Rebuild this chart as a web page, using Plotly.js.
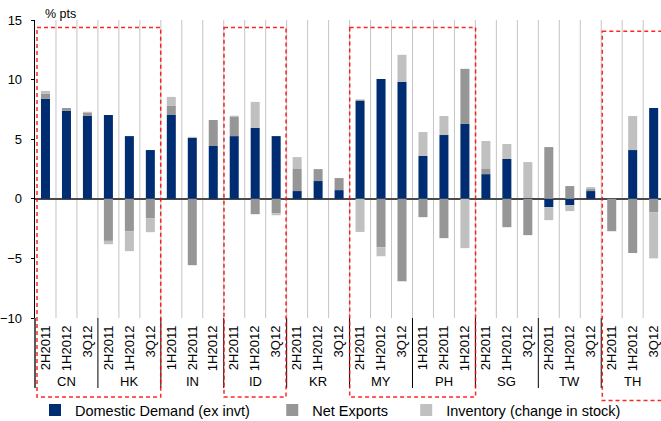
<!DOCTYPE html>
<html>
<head>
<meta charset="utf-8">
<script src="https://cdn.plot.ly/plotly-3.0.1.min.js"></script>
<style>
  html, body { margin: 0; padding: 0; background: #fff; }
  #chart { width: 661px; height: 421px; }
</style>
</head>
<body>
<div id="chart"></div>
<script>
// Contributions to growth by economy, % pts
const countries = ['CN', 'HK', 'IN', 'ID', 'KR', 'MY', 'PH', 'SG', 'TW', 'TH'];
const periods = [
  '2H2011', '1H2012', '3Q12',   // CN
  '2H2011', '1H2012', '3Q12',   // HK
  '1H2011', '2H2011', '1H2012', // IN
  '2H2011', '1H2012', '3Q12',   // ID
  '2H2011', '1H2012', '3Q12',   // KR
  '2H2011', '1H2012', '3Q12',   // MY
  '1H2011', '2H2011', '1H2012', // PH
  '2H2011', '1H2012', '3Q12',   // SG
  '2H2011', '1H2012', '3Q12',   // TW
  '2H2011', '1H2012', '3Q12'    // TH
];
const domesticDemand = [
  8.38, 7.37, 6.95,
  7.03, 5.26, 4.09,
  7.03, 5.10, 4.43,
  5.26, 5.94, 5.26,
  0.65, 1.49, 0.73,
  8.21, 10.06, 9.81,
  3.59, 5.35, 6.28,
  2.07, 3.34, 0.06,
  -0.70, -0.53, 0.65,
  0.00, 4.09, 7.62
];
const netExports = [
  0.42, 0.25, 0.25,
  -3.53, -2.71, -1.62,
  0.76, -5.57, 2.18,
  1.60, -1.29, -1.21,
  1.85, 1.00, 1.01,
  0.11, -4.06, -6.92,
  -1.54, -3.30, 4.62,
  0.43, -2.38, -3.05,
  4.34, 1.07, 0.17,
  -2.72, -4.55, -1.12
];
const inventory = [
  0.25, 0.00, 0.10,
  -0.28, -1.68, -1.18,
  0.76, 0.10, 0.00,
  0.11, 2.19, -0.17,
  1.00, 0.00, 0.00,
  -2.78, -0.76, 2.27,
  2.01, 1.60, -4.14,
  2.35, 1.26, 3.02,
  -1.09, -0.50, 0.16,
  0.00, 2.86, -3.88
];
const seriesNames = ['Domestic Demand (ex invt)', 'Net Exports', 'Inventory (change in stock)'];
const seriesColors = ['#002D72', '#969696', '#C0C0C0'];

const idx = periods.map((_, i) => i);
const perGroup = 3;
const xMin = -0.5, xMax = 29.35;
const toPaperX = v => (v - xMin) / (xMax - xMin);

const traces = [domesticDemand, netExports, inventory].map((vals, s) => ({
  type: 'bar',
  x: idx,
  y: vals,
  name: seriesNames[s],
  legend: s === 0 ? 'legend' : 'legend' + (s + 1),
  marker: { color: seriesColors[s], line: { width: 0 } },
  hoverinfo: 'skip'
}));

const shapes = [];
// light vertical grid between every column
for (let k = 1; k < periods.length; k++) {
  shapes.push({
    type: 'line', xref: 'x', yref: 'paper', layer: 'below',
    x0: k - 0.5, x1: k - 0.5, y0: 0, y1: 1,
    line: { color: '#C4C4C4', width: 1 }
  });
}
// group dividers in the label band, plus the axis extension
for (let g = 0; g < countries.length; g++) {
  const xp = toPaperX(g * perGroup - 0.5);
  shapes.push({
    type: 'line', xref: 'paper', yref: 'paper',
    x0: xp, x1: xp, y0: 0, y1: -0.235,
    line: { color: '#000', width: g === 0 ? 1.3 : 1 }
  });
}
// dashed highlight boxes
const boxStyle = { color: 'rgba(255,0,0,0.85)', width: 1.5, dash: '4px,3px' };
[
  [0.0032, 0.2008, 0.9748, -0.2655],
  [0.3019, 0.4010, 0.9748, -0.2655],
  [0.5027, 0.7038, 0.9748, -0.2655],
  [0.9062, 1.0500, 0.9620, -0.2770]
].forEach(b => shapes.push({
  type: 'rect', xref: 'paper', yref: 'paper',
  x0: b[0], x1: b[1], y0: b[2], y1: b[3],
  line: boxStyle, fillcolor: 'rgba(0,0,0,0)'
}));

const annotations = countries.map((c, g) => ({
  text: c, xref: 'x', yref: 'paper',
  x: g * perGroup + 1, y: -0.2134,
  showarrow: false, xanchor: 'center', yanchor: 'middle',
  font: { family: 'Liberation Sans, Arial, sans-serif', size: 13, color: '#000' }
}));
annotations.push({
  text: '% pts', xref: 'paper', yref: 'paper',
  x: 0.0128, y: 1.0185, xanchor: 'left', yanchor: 'middle',
  showarrow: false,
  font: { family: 'Liberation Sans, Arial, sans-serif', size: 12.5, color: '#000' }
});

const legendFont = { family: 'Liberation Sans, Arial, sans-serif', size: 14.5, color: '#000' };
const legendBase = {
  orientation: 'h', xanchor: 'left', yanchor: 'middle', y: -0.309,
  font: legendFont, bgcolor: 'rgba(0,0,0,0)', borderwidth: 0,
  itemwidth: 30, traceorder: 'normal'
};

const layout = {
  width: 661, height: 421,
  margin: { l: 35, r: 0, t: 20, b: 103, autoexpand: false },
  paper_bgcolor: '#fff', plot_bgcolor: '#fff',
  barmode: 'relative', bargap: 0.57,
  showlegend: true,
  legend: Object.assign({}, legendBase, { x: 0.0 }),
  legend2: Object.assign({}, legendBase, { x: 0.379 }),
  legend3: Object.assign({}, legendBase, { x: 0.593 }),
  xaxis: {
    range: [xMin, xMax],
    tickvals: idx, ticktext: periods, tickangle: -90,
    tickfont: { family: 'Liberation Sans Narrow, Arial Narrow, sans-serif', size: 13, color: '#000' },
    ticks: '', showgrid: false, zeroline: false, showline: false,
    ticklabelstandoff: 4, fixedrange: true
  },
  yaxis: {
    range: [-10, 15], tickvals: [-10, -5, 0, 5, 10, 15],
    ticks: 'outside', ticklen: 3, tickcolor: '#000', tickwidth: 1,
    tickfont: { family: 'Liberation Sans, Arial, sans-serif', size: 13, color: '#000' },
    showline: true, linecolor: '#000', linewidth: 1.3,
    showgrid: false, zeroline: true, zerolinecolor: '#4A4A4A', zerolinewidth: 1.5,
    ticklabelstandoff: 6, fixedrange: true
  },
  shapes: shapes,
  annotations: annotations
};

Plotly.newPlot('chart', traces, layout, { displayModeBar: false, staticPlot: true });
</script>
</body>
</html>
